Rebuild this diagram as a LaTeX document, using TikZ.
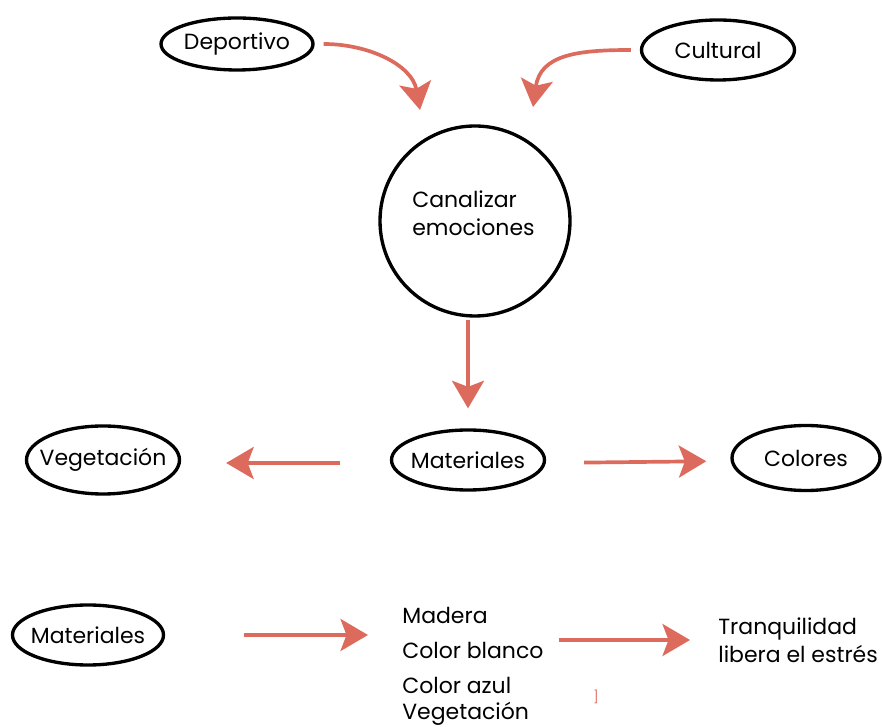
\documentclass[tikz,border=0pt]{standalone}
\usepackage{fontspec}
\setmainfont{Poppins}
\usepackage{xcolor}
\usetikzlibrary{arrows.meta,positioning,shapes}

\definecolor{salmon}{RGB}{221,107,93}

\begin{document}
\begin{tikzpicture}[
    oval/.style={ellipse, draw, line width=1.9pt, inner xsep=-0.5cm, inner ysep=0pt, font=\fontsize{12.5}{15}\selectfont},
    bigcircle/.style={circle, draw, line width=1.9pt, minimum size=3.8cm, inner sep=0pt},
    plain/.style={inner sep=0pt, align=left, font=\fontsize{12.5}{16}\selectfont},
    arrow/.style={-{Stealth[length=5.5mm, width=6.4mm, inset=1.2mm]}, line width=2.1pt, salmon}
]
\useasboundingbox (0,0) rectangle (17.64,14.52);
\node[oval, minimum width=3.04cm, minimum height=1.04cm] (dep) at (4.74,13.64) {Deportivo};
\node[oval, minimum width=3.06cm, minimum height=1.2cm] (cult) at (14.36,13.52) {Cultural};
\node[bigcircle] (canal) at (9.5,10.1) {};
\node[plain, font=\fontsize{12.5}{16}\selectfont, anchor=west] (canaltxt) at (8.24,10.25) {Canalizar\\emociones};
\coordinate (depin) at (8.4,12.32);\coordinate (cultin) at (10.66,12.38);
\draw[arrow] ([xshift=0.18cm]dep.east) to[out=0,in=100] (depin);
\draw[arrow] ([xshift=-0.18cm]cult.west) to[out=180,in=82,looseness=1.2] (cultin);
% fila del medio
\node[oval, minimum width=3.06cm, minimum height=1.2cm] (mat) at (9.36,5.32) {Materiales};
\node[oval, minimum width=3.06cm, minimum height=1.36cm] (veg) at (2.06,5.32) {Vegetación};
\node[oval, minimum width=2.96cm, minimum height=1.3cm] (col) at (16.12,5.36) {Colores};
\draw[arrow, shorten <=0.04cm, shorten >=0.4cm] (canal.south -| mat.north) -- (mat.north);
\draw[arrow, shorten <=1.0cm, shorten >=0.9cm] ([yshift=-0.06cm]mat.west) -- ([yshift=-0.06cm]veg.east);
\draw[arrow, shorten <=0.76cm, shorten >=0.48cm] ([yshift=-0.06cm]mat.east) -- ([yshift=-0.06cm]col.west);
% fila de abajo
\node[oval, minimum width=3.02cm, minimum height=1.2cm] (mat2) at (1.76,1.82) {Materiales};
\node[plain, anchor=north west] (lista) at (8.04,2.38) {Madera\\[4pt]Color blanco\\[4pt]Color azul\\[-1.5pt]Vegetación};
\node[plain, anchor=west] (tranq) at (14.36,1.72) {Tranquilidad\\libera el estrés};
\node[inner sep=0pt, text=salmon, font=\scriptsize] (marca) at (11.92,0.58) {]};
\draw[arrow, shorten <=1.58cm, shorten >=0.68cm] (mat2.east) -- (mat2.east -| lista.west);
\draw[arrow, shorten <=0.3cm, shorten >=0.56cm] (lista.east |- tranq.west) -- (tranq.west);
\end{tikzpicture}
\end{document}
